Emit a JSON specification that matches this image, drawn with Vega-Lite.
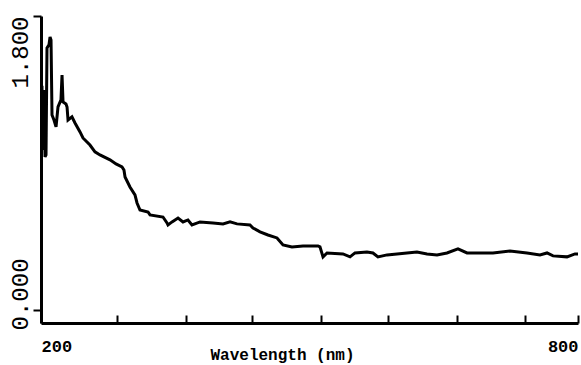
{
  "$schema": "https://vega.github.io/schema/vega-lite/v6.json",
  "width": 537,
  "height": 307,
  "autosize": {"type": "none"},
  "padding": {"left": 41, "top": 16, "right": 3, "bottom": 42},
  "background": "white",
  "config": {"view": {"stroke": null}},
  "data": {"values": [
    {"nm": 200, "a": 0.98}, {"nm": 201.1, "a": 1.372}, {"nm": 202.2, "a": 0.98}, {"nm": 203.4, "a": 1.347},
    {"nm": 204.5, "a": 0.937}, {"nm": 205.6, "a": 0.949}, {"nm": 206.7, "a": 1.604}, {"nm": 208.9, "a": 1.623},
    {"nm": 210.1, "a": 1.672}, {"nm": 211.2, "a": 1.653}, {"nm": 212.3, "a": 1.194}, {"nm": 214.5, "a": 1.163},
    {"nm": 216.8, "a": 1.121}, {"nm": 219.0, "a": 1.243}, {"nm": 222.3, "a": 1.286}, {"nm": 223.5, "a": 1.439},
    {"nm": 224.6, "a": 1.274}, {"nm": 227.9, "a": 1.261}, {"nm": 229.1, "a": 1.243}, {"nm": 230.2, "a": 1.163},
    {"nm": 234.6, "a": 1.182}, {"nm": 238.0, "a": 1.145}, {"nm": 243.6, "a": 1.09}, {"nm": 246.9, "a": 1.053},
    {"nm": 254.7, "a": 1.01}, {"nm": 260.3, "a": 0.968}, {"nm": 265.9, "a": 0.949}, {"nm": 277.1, "a": 0.919},
    {"nm": 283.8, "a": 0.894}, {"nm": 290.5, "a": 0.876}, {"nm": 292.7, "a": 0.857}, {"nm": 293.9, "a": 0.814},
    {"nm": 299.4, "a": 0.753}, {"nm": 305.0, "a": 0.704}, {"nm": 307.3, "a": 0.655}, {"nm": 310.6, "a": 0.612},
    {"nm": 319.6, "a": 0.6}, {"nm": 321.8, "a": 0.582}, {"nm": 336.3, "a": 0.569}, {"nm": 340.8, "a": 0.533},
    {"nm": 341.9, "a": 0.52}, {"nm": 346.4, "a": 0.539}, {"nm": 353.1, "a": 0.563}, {"nm": 358.7, "a": 0.539},
    {"nm": 364.2, "a": 0.551}, {"nm": 368.7, "a": 0.52}, {"nm": 377.7, "a": 0.539}, {"nm": 392.2, "a": 0.533},
    {"nm": 403.4, "a": 0.527}, {"nm": 411.2, "a": 0.539}, {"nm": 419.0, "a": 0.527}, {"nm": 433.5, "a": 0.52},
    {"nm": 436.9, "a": 0.502}, {"nm": 444.7, "a": 0.478}, {"nm": 453.6, "a": 0.459}, {"nm": 463.7, "a": 0.441},
    {"nm": 470.4, "a": 0.398}, {"nm": 480.4, "a": 0.386}, {"nm": 492.7, "a": 0.392}, {"nm": 509.5, "a": 0.392},
    {"nm": 511.7, "a": 0.386}, {"nm": 515.1, "a": 0.325}, {"nm": 519.6, "a": 0.349}, {"nm": 537.4, "a": 0.343},
    {"nm": 545.3, "a": 0.325}, {"nm": 550.8, "a": 0.349}, {"nm": 564.2, "a": 0.355}, {"nm": 570.9, "a": 0.349},
    {"nm": 576.5, "a": 0.325}, {"nm": 586.6, "a": 0.337}, {"nm": 597.8, "a": 0.343}, {"nm": 608.9, "a": 0.349},
    {"nm": 620.1, "a": 0.355}, {"nm": 631.3, "a": 0.343}, {"nm": 642.5, "a": 0.337}, {"nm": 653.6, "a": 0.349},
    {"nm": 665.9, "a": 0.374}, {"nm": 676.0, "a": 0.349}, {"nm": 690.5, "a": 0.349}, {"nm": 705.0, "a": 0.349},
    {"nm": 724.0, "a": 0.361}, {"nm": 743.0, "a": 0.349}, {"nm": 757.5, "a": 0.337}, {"nm": 765.4, "a": 0.349},
    {"nm": 772.1, "a": 0.331}, {"nm": 787.7, "a": 0.325}, {"nm": 796.6, "a": 0.343}, {"nm": 800, "a": 0.343}
  ]},
  "mark": {"type": "line", "color": "black", "strokeWidth": 3, "clip": true, "strokeJoin": "miter"},
  "encoding": {
    "x": {
      "field": "nm", "type": "quantitative",
      "scale": {"domain": [200, 800], "nice": false, "zero": false},
      "axis": {
        "values": [200, 285, 362, 436, 513, 588, 665, 741, 800],
        "labelExpr": "datum.value == 200 || datum.value == 800 ? format(datum.value, 'd') : ''",
        "labelFlush": true,
        "grid": false,
        "domainColor": "black", "domainWidth": 3,
        "tickColor": "black", "tickWidth": 2, "tickSize": -8,
        "labelFont": "Liberation Mono", "labelFontSize": 17, "labelFontWeight": "bold", "labelColor": "black",
        "labelPadding": 31, "labelBaseline": "middle",
        "title": "Wavelength (nm)",
        "titleFont": "Liberation Mono", "titleFontSize": 16, "titleFontWeight": "bold", "titleColor": "black",
        "titleX": 241, "titleY": 31, "titleBaseline": "middle", "titleAnchor": "middle"
      }
    },
    "y": {
      "field": "a", "type": "quantitative",
      "scale": {"domain": [-0.08, 1.8], "nice": false, "zero": false},
      "axis": {
        "values": [0, 1.8],
        "format": ".3f",
        "grid": false,
        "domainColor": "black", "domainWidth": 3,
        "tickColor": "black", "tickWidth": 2, "tickSize": 8,
        "labelAngle": -90,
        "labelAlign": "right",
        "labelBaseline": "bottom",
        "labelOffset": {"condition": {"test": "datum.value == 0", "value": -52}, "value": 0},
        "labelFont": "Liberation Mono", "labelFontSize": 24, "labelColor": "black",
        "labelPadding": 1,
        "title": null
      }
    }
  }
}
